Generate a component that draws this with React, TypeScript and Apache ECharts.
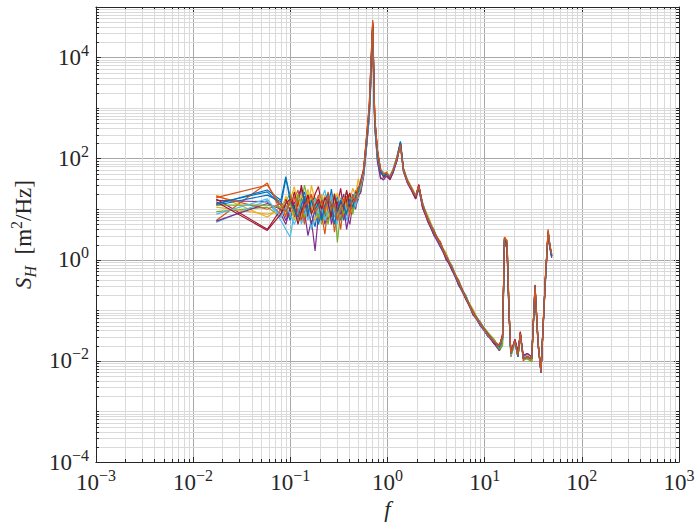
import React, { useEffect, useRef } from 'react';
import * as echarts from 'echarts';

// Frequencies (Hz) shared by all realisations
const FREQ = [
  0.0173, 0.058, 0.08, 0.09, 0.1, 0.11, 0.12, 0.13, 0.14, 0.152,
  0.165, 0.18, 0.195, 0.21, 0.227, 0.245, 0.265, 0.285, 0.305, 0.33,
  0.355, 0.38, 0.41, 0.44, 0.47, 0.5, 0.53, 0.57, 0.61, 0.65,
  0.675, 0.705, 0.74, 0.79, 0.85, 0.91, 0.98, 1.06, 1.15, 1.25,
  1.36, 1.46, 1.6, 1.78, 1.95, 2.1, 2.3, 2.6, 3.0, 3.5,
  4.0, 4.6, 5.4, 6.4, 7.6, 9.0, 10.7, 12.5, 14.2, 15.3,
  16.0, 17.0, 17.8, 18.6, 20.5, 22, 23.3, 25, 27.5, 30.5,
  33, 35.5, 38, 40, 42, 45, 47, 49,
];

const S01 = [13, 22, 12, 40, 18, 9, 14, 6, 11, 20, 8, 4.5, 12, 18, 7, 10, 25, 9, 14, 6, 12, 16, 9, 20, 14, 28, 22, 55,
  200, 900, 5000, 42000, 500, 120, 60, 45, 52, 40, 65, 110, 220, 65, 38, 26, 17, 26, 13.5, 6.0, 4.0, 1.8, 1.35, 0.62, 0.4, 0.17, 0.1, 0.05, 0.037, 0.022, 0.02, 0.028, 2.6, 1.6, 0.09, 0.015, 0.024, 0.012, 0.032, 0.012, 0.011, 0.012, 0.28, 0.02, 0.0065, 0.045, 0.3, 3.2, 1.7, 1.1];
const S02 = [6, 33, 9, 12, 7, 16, 24, 10, 5, 13, 19, 8, 15, 6, 11, 22, 12, 3.5, 9, 15, 7, 13, 19, 11, 24, 17, 35, 60,
  260, 1200, 7000, 55000, 650, 140, 55, 48, 46, 44, 58, 95, 180, 55, 36, 24, 19, 30, 10.5, 7.2, 3.0, 2.3, 1.05, 0.78, 0.31, 0.2, 0.08, 0.06, 0.031, 0.026, 0.018, 0.035, 2.8, 2.4, 0.12, 0.013, 0.026, 0.014, 0.036, 0.01, 0.012, 0.01, 0.32, 0.024, 0.006, 0.055, 0.38, 4.0, 1.9, 1.3];
const S03 = [19, 7, 11, 8, 15, 28, 12, 7, 17, 9, 30, 14, 6, 10, 19, 8, 13, 21, 10, 7, 14, 9, 15, 26, 18, 40, 28, 70,
  300, 1000, 4500, 30000, 550, 130, 65, 50, 55, 45, 62, 105, 170, 62, 40, 27, 19, 27, 12.5, 7.5, 3.9, 2.0, 1.4, 0.7, 0.39, 0.18, 0.105, 0.053, 0.038, 0.024, 0.021, 0.03, 2.2, 2.1, 0.1, 0.015, 0.025, 0.013, 0.034, 0.011, 0.013, 0.011, 0.29, 0.023, 0.0062, 0.05, 0.36, 3.4, 1.8, 1.2];
const S04 = [15, 14, 8, 5, 11, 7, 18, 26, 9, 3, 6, 1.5, 8, 14, 5, 9, 17, 11, 6, 12, 20, 8, 5, 13, 10, 18, 24, 50,
  180, 700, 3500, 25000, 450, 90, 40, 42, 48, 38, 55, 90, 200, 58, 34, 23, 16, 25, 11, 5.6, 3.2, 2.2, 1.0, 0.74, 0.31, 0.19, 0.082, 0.058, 0.031, 0.026, 0.017, 0.027, 2.4, 1.8, 0.08, 0.014, 0.025, 0.015, 0.033, 0.012, 0.014, 0.012, 0.27, 0.021, 0.0058, 0.048, 0.33, 3.3, 1.7, 1.15];
const S05 = [9, 11, 7, 14, 21, 10, 6, 12, 30, 15, 9, 17, 11, 5, 8, 14, 9, 16, 2.2, 9, 15, 22, 12, 8, 16, 22, 30, 58,
  220, 850, 4000, 35000, 480, 110, 58, 46, 50, 43, 60, 100, 185, 60, 35, 25, 18, 28, 13, 6.6, 3.7, 1.85, 1.3, 0.64, 0.37, 0.165, 0.097, 0.05, 0.036, 0.023, 0.016, 0.02, 2.0, 2.3, 0.11, 0.012, 0.024, 0.012, 0.03, 0.011, 0.011, 0.0095, 0.26, 0.022, 0.0063, 0.05, 0.34, 3.5, 1.8, 1.2];
const S06 = [5.5, 15, 6, 4, 2.8, 9, 13, 5, 8, 12, 4, 7, 10, 16, 24, 11, 6, 13, 8, 17, 10, 6, 11, 17, 13, 20, 26, 48,
  190, 800, 4200, 38000, 520, 125, 62, 52, 47, 46, 63, 105, 175, 57, 37, 26, 18, 29, 12, 7.0, 3.3, 2.15, 1.1, 0.76, 0.33, 0.2, 0.086, 0.059, 0.032, 0.025, 0.019, 0.03, 2.3, 2.2, 0.1, 0.013, 0.022, 0.013, 0.03, 0.012, 0.012, 0.011, 0.3, 0.021, 0.006, 0.052, 0.35, 3.6, 1.85, 1.25];
const S07 = [16, 4, 10, 16, 9, 22, 11, 30, 14, 7, 11, 20, 28, 12, 9, 6, 11, 18, 12, 26, 9, 15, 21, 12, 19, 25, 32, 62,
  240, 950, 5500, 45000, 580, 135, 57, 44, 51, 41, 61, 95, 195, 63, 36, 24, 17, 30, 11.5, 6.2, 3.8, 1.9, 1.25, 0.66, 0.38, 0.17, 0.094, 0.052, 0.035, 0.022, 0.02, 0.032, 2.5, 2.0, 0.1, 0.014, 0.026, 0.013, 0.038, 0.011, 0.012, 0.011, 0.31, 0.022, 0.0062, 0.05, 0.36, 3.5, 1.8, 1.2];
const S08 = [12, 19, 14, 10, 6, 12, 9, 16, 22, 10, 14, 9, 5, 9, 15, 20, 8, 12, 18, 10, 6, 11, 14, 10, 22, 15, 30, 52,
  210, 880, 4800, 40000, 510, 115, 52, 47, 49, 44, 58, 102, 205, 61, 37, 25, 18, 27, 12.5, 6.9, 3.4, 2.05, 1.15, 0.73, 0.34, 0.19, 0.088, 0.057, 0.033, 0.025, 0.019, 0.03, 2.6, 1.9, 0.1, 0.014, 0.025, 0.012, 0.034, 0.011, 0.012, 0.011, 0.3, 0.022, 0.006, 0.05, 0.35, 3.5, 1.8, 1.2];
const S09 = [18, 10, 13, 7, 19, 8, 15, 11, 6, 17, 10, 13, 19, 8, 3.2, 12, 16, 7, 11, 4, 13, 18, 10, 16, 12, 24, 38, 65,
  270, 1100, 6500, 50000, 620, 145, 60, 49, 53, 42, 60, 100, 185, 59, 36, 25, 18, 29, 13, 6.1, 3.6, 2.25, 1.2, 0.69, 0.36, 0.175, 0.092, 0.054, 0.034, 0.024, 0.02, 0.03, 2.7, 2.3, 0.11, 0.014, 0.025, 0.013, 0.035, 0.011, 0.012, 0.011, 0.3, 0.023, 0.006, 0.05, 0.37, 3.7, 1.9, 1.3];
const S10 = [11, 8, 9, 18, 12, 6, 10, 19, 12, 25, 12, 6, 9, 20, 13, 7, 10, 14, 21, 11, 17, 10, 7, 14, 20, 16, 27, 56,
  230, 920, 5200, 33000, 530, 118, 61, 50, 48, 45, 64, 108, 178, 64, 39, 27, 19, 27, 11.8, 7.3, 3.5, 1.95, 1.32, 0.71, 0.35, 0.185, 0.09, 0.056, 0.036, 0.026, 0.019, 0.03, 2.3, 2.5, 0.1, 0.014, 0.024, 0.012, 0.033, 0.011, 0.012, 0.011, 0.29, 0.022, 0.0062, 0.05, 0.34, 3.4, 1.75, 1.2];
const S11 = [5.8, 13, 10, 6, 10, 14, 7, 9, 16, 11, 5, 10, 14, 7, 12, 17, 5, 9, 13, 8, 11, 4, 9, 12, 11, 19, 21, 45,
  170, 650, 3000, 20000, 420, 85, 42, 38, 45, 39, 54, 92, 195, 56, 33, 23, 16, 26, 10.5, 6.0, 3.1, 1.8, 1.08, 0.63, 0.32, 0.165, 0.085, 0.05, 0.032, 0.022, 0.016, 0.026, 2.1, 1.7, 0.09, 0.015, 0.027, 0.016, 0.032, 0.013, 0.014, 0.012, 0.25, 0.02, 0.0058, 0.046, 0.32, 3.2, 1.7, 1.1];
const S12 = [12, 12, 11, 9, 13, 8, 20, 13, 7, 10, 16, 11, 7, 13, 10, 5, 14, 10, 7, 13, 8, 12, 17, 9, 15, 21, 25, 54,
  210, 820, 4100, 28000, 470, 105, 56, 46, 51, 43, 59, 98, 188, 60, 36, 25, 18, 28, 12.8, 6.7, 3.7, 2.1, 1.22, 0.75, 0.37, 0.19, 0.097, 0.058, 0.037, 0.027, 0.017, 0.022, 2.0, 2.4, 0.12, 0.012, 0.023, 0.012, 0.031, 0.011, 0.011, 0.0098, 0.27, 0.021, 0.0063, 0.05, 0.35, 3.5, 1.8, 1.2];
const S13 = [8, 16, 7, 11, 8, 5, 8, 14, 10, 6, 13, 16, 8, 11, 6, 9, 19, 8, 5, 11, 14, 9, 13, 18, 11, 23, 29, 50,
  195, 780, 4300, 36000, 500, 122, 63, 53, 49, 47, 62, 104, 172, 58, 38, 26, 18.5, 28, 12.5, 6.5, 3.5, 2.0, 1.2, 0.7, 0.35, 0.18, 0.09, 0.053, 0.033, 0.024, 0.019, 0.029, 2.2, 2.2, 0.1, 0.013, 0.023, 0.013, 0.031, 0.012, 0.012, 0.011, 0.29, 0.021, 0.006, 0.05, 0.34, 3.6, 1.85, 1.25];
const S14 = [14, 3.8, 8, 13, 16, 11, 5, 9, 13, 19, 8, 12, 16, 10, 17, 13, 7, 20, 9, 14, 11, 24, 11, 15, 17, 26, 33, 60,
  250, 980, 6000, 48000, 600, 138, 58, 45, 50, 41, 60, 96, 198, 62, 36, 24, 17, 31, 11.8, 6.3, 3.6, 2.05, 1.18, 0.69, 0.36, 0.18, 0.091, 0.055, 0.035, 0.024, 0.02, 0.033, 2.5, 2.1, 0.1, 0.014, 0.026, 0.013, 0.037, 0.011, 0.012, 0.011, 0.31, 0.022, 0.0062, 0.05, 0.36, 3.6, 1.8, 1.2];
const S15 = [12.5, 24, 15, 44, 14, 10, 7, 12, 18, 8, 15, 10, 13, 6, 11, 16, 12, 5, 10, 15, 12, 8, 16, 11, 18, 22, 34, 57,
  215, 890, 4900, 41000, 505, 117, 54, 46, 50, 43, 59, 103, 210, 62, 37, 25, 18, 27, 12.2, 6.6, 3.45, 1.97, 1.21, 0.7, 0.34, 0.18, 0.09, 0.055, 0.034, 0.024, 0.019, 0.029, 2.7, 1.8, 0.1, 0.014, 0.025, 0.012, 0.034, 0.011, 0.012, 0.011, 0.3, 0.022, 0.006, 0.05, 0.35, 3.5, 1.8, 1.2];
const S16 = [17, 30, 12, 9, 14, 18, 9, 6, 12, 14, 20, 9, 11, 15, 9, 19, 10, 13, 6, 10, 16, 13, 8, 19, 14, 27, 31, 62,
  280, 1150, 7500, 52000, 640, 148, 61, 50, 52, 43, 61, 101, 190, 60, 36, 25, 18, 29, 12.0, 6.4, 3.55, 2.02, 1.19, 0.71, 0.355, 0.178, 0.089, 0.056, 0.034, 0.024, 0.02, 0.031, 2.8, 2.3, 0.11, 0.014, 0.025, 0.013, 0.035, 0.011, 0.012, 0.011, 0.3, 0.023, 0.006, 0.05, 0.38, 3.8, 1.9, 1.3];

const SERIES_VALUES = [S01, S02, S03, S04, S05, S06, S07, S08, S09, S10, S11, S12, S13, S14, S15, S16];
const COLORS = ['#0072BD', '#D95319', '#EDB120', '#7E2F8E', '#77AC30', '#4DBEEE', '#A2142F'];

const X_MIN = 1e-3;
const X_MAX = 1e3;
const Y_MIN = 1e-4;
const Y_MAX = 1e5;

const FONT = '"Liberation Serif", "DejaVu Serif", serif';
const INK = '#262626';
const MAJOR_GRID = '#a8a8a8';
const MINOR_GRID = '#dadada';

// minor grid positions (2..9 x 10^k), plus odd decades for y
const X_MINOR: number[] = [];
for (let k = -3; k < 3; k++) for (let m = 2; m <= 9; m++) X_MINOR.push(m * Math.pow(10, k));
const Y_MINOR: number[] = [];
for (let k = -4; k < 5; k++) {
  if (k % 2 !== 0) Y_MINOR.push(Math.pow(10, k));
  for (let m = 2; m <= 9; m++) Y_MINOR.push(m * Math.pow(10, k));
}

const supText = (v: number) => {
  const e = Math.round(Math.log10(v));
  return String(e).replace('-', '\u2212');
};

const labelRich = {
  b: { fontSize: 23, fontFamily: FONT, color: INK, lineHeight: 30 },
  s: { fontSize: 16, fontFamily: FONT, color: INK, lineHeight: 16, verticalAlign: 'top' },
};

export default function App() {
  const ref = useRef<HTMLDivElement>(null);
  useEffect(() => {
    document.body.style.margin = '0';
    const chart = echarts.init(ref.current!, null, { renderer: 'svg' });

    const lineSeries = SERIES_VALUES.map((vals, i) => ({
      type: 'line',
      data: FREQ.map((f, j) => [f, vals[j]]),
      showSymbol: false,
      symbol: 'none',
      lineStyle: { width: 1.2, color: COLORS[i % COLORS.length] },
      itemStyle: { color: COLORS[i % COLORS.length] },
      z: 3,
      silent: true,
    }));

    const xMinorSeries = {
      type: 'custom',
      silent: true,
      z: 1,
      data: X_MINOR.map((v) => [v, 1]),
      encode: { x: 0, y: 1 },
      renderItem: (params: any, api: any) => {
        const cs = params.coordSys;
        const p = api.coord([api.value(0), api.value(1)]);
        const x = Math.round(p[0]) + 0.5;
        const top = cs.y;
        const bot = cs.y + cs.height;
        return {
          type: 'group',
          children: [
            { type: 'line', shape: { x1: x, y1: top, x2: x, y2: bot }, style: { stroke: MINOR_GRID, lineWidth: 1 } },
            { type: 'line', shape: { x1: x, y1: bot, x2: x, y2: bot - 3 }, style: { stroke: INK, lineWidth: 1 } },
            { type: 'line', shape: { x1: x, y1: top, x2: x, y2: top + 3 }, style: { stroke: INK, lineWidth: 1 } },
          ],
        };
      },
    };

    const yMinorSeries = {
      type: 'custom',
      silent: true,
      z: 1,
      data: Y_MINOR.map((v) => [1, v]),
      encode: { x: 0, y: 1 },
      renderItem: (params: any, api: any) => {
        const cs = params.coordSys;
        const p = api.coord([api.value(0), api.value(1)]);
        const y = Math.round(p[1]) + 0.5;
        const l = cs.x;
        const r = cs.x + cs.width;
        return {
          type: 'group',
          children: [
            { type: 'line', shape: { x1: l, y1: y, x2: r, y2: y }, style: { stroke: MINOR_GRID, lineWidth: 1 } },
            { type: 'line', shape: { x1: l, y1: y, x2: l + 3, y2: y }, style: { stroke: INK, lineWidth: 1 } },
            { type: 'line', shape: { x1: r, y1: y, x2: r - 3, y2: y }, style: { stroke: INK, lineWidth: 1 } },
          ],
        };
      },
    };

    const baseX = {
      type: 'log',
      logBase: 10,
      min: X_MIN,
      max: X_MAX,
      interval: 1,
      axisLine: { show: true, onZero: false, lineStyle: { color: INK, width: 1 } },
      axisTick: { show: true, inside: true, length: 5, lineStyle: { color: INK } },
      minorTick: { show: false },
    };
    const baseY = {
      type: 'log',
      logBase: 10,
      min: Y_MIN,
      max: Y_MAX,
      interval: 2,
      axisLine: { show: true, onZero: false, lineStyle: { color: INK, width: 1 } },
      axisTick: { show: true, inside: true, length: 5, lineStyle: { color: INK } },
      minorTick: { show: false },
    };

    chart.setOption({
      animation: false,
      backgroundColor: '#ffffff',
      grid: { left: 94, right: 19, top: 7, bottom: 65 },
      xAxis: [
        {
          ...baseX,
          position: 'bottom',
          name: '{i|f}',
          nameLocation: 'middle',
          nameGap: 36,
          nameTextStyle: { rich: { i: { fontSize: 23, fontFamily: FONT, fontStyle: 'italic', color: INK } } },
          axisLabel: {
            margin: 5,
            formatter: (v: number) => `{b|10}{s|${supText(v)}}`,
            rich: labelRich,
          },
          splitLine: { show: true, lineStyle: { color: MAJOR_GRID, width: 1 } },
        },
        {
          ...baseX,
          position: 'top',
          axisLabel: { show: false },
          splitLine: { show: false },
        },
      ],
      yAxis: [
        {
          ...baseY,
          position: 'left',
          name: '{i|S}{sub|H}{n|\u2002[m}{sup|2}{n|/Hz]}',
          nameLocation: 'middle',
          nameGap: 52,
          nameTextStyle: {
            rich: {
              i: { fontSize: 23, fontFamily: FONT, fontStyle: 'italic', color: INK, lineHeight: 30 },
              sub: { fontSize: 16, fontFamily: FONT, fontStyle: 'italic', color: INK, lineHeight: 16, verticalAlign: 'bottom' },
              n: { fontSize: 23, fontFamily: FONT, color: INK, lineHeight: 30 },
              sup: { fontSize: 16, fontFamily: FONT, color: INK, lineHeight: 16, verticalAlign: 'top' },
            },
          },
          axisLabel: {
            margin: 7,
            formatter: (v: number) => (v >= Y_MAX * 0.99 ? '' : `{b|10}{s|${supText(v)}}`),
            rich: labelRich,
          },
          splitLine: { show: true, lineStyle: { color: MAJOR_GRID, width: 1 } },
        },
        {
          ...baseY,
          position: 'right',
          axisLabel: { show: false },
          splitLine: { show: false },
        },
      ],
      series: [xMinorSeries, yMinorSeries, ...lineSeries],
    });
    return () => chart.dispose();
  }, []);
  return <div ref={ref} style={{ width: 698, height: 527 }} />;
}
